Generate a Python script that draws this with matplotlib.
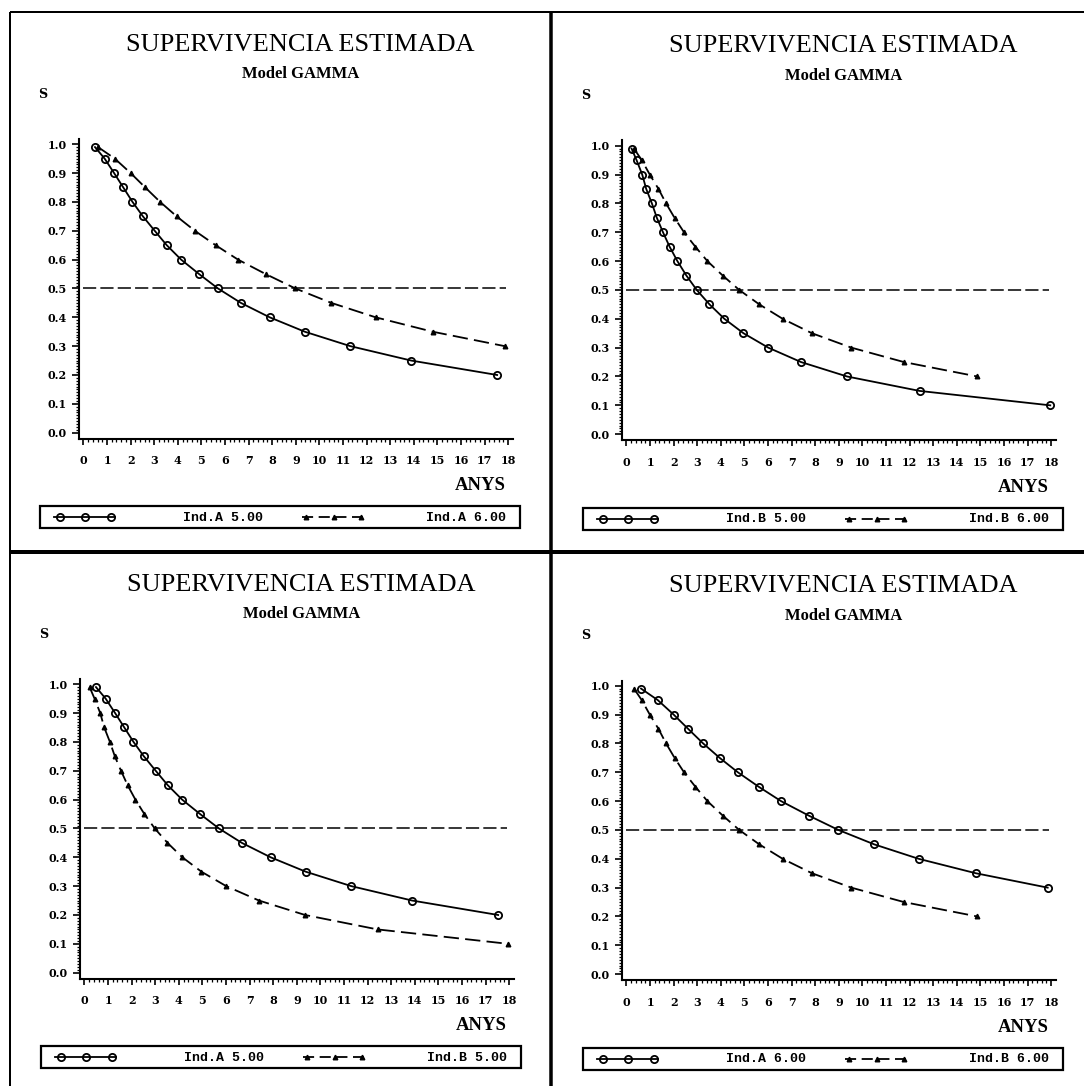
import matplotlib
matplotlib.use("Agg")
import matplotlib.pyplot as plt
from matplotlib.ticker import FixedLocator
from matplotlib.patches import Rectangle
import numpy as np

plt.rcParams['lines.scale_dashes'] = False

# ---------------- data ----------------
TITLE = "SUPERVIVENCIA ESTIMADA"
SUBTITLE = "Model GAMMA"
Y_LABEL = "S"
X_LABEL = "ANYS"
X_TICKS = list(range(0, 19))
Y_TICKS = [0.0, 0.1, 0.2, 0.3, 0.4, 0.5, 0.6, 0.7, 0.8, 0.9, 1.0]
Y_TICK_LABELS = ["0.0", "0.1", "0.2", "0.3", "0.4", "0.5", "0.6", "0.7", "0.8", "0.9", "1.0"]

A5_T = [0.49, 0.90, 1.30, 1.69, 2.08, 2.52, 3.02, 3.53, 4.14, 4.90, 5.70, 6.67,
        7.89, 9.38, 11.31, 13.89, 17.53]
A5_S = [0.99, 0.95, 0.90, 0.85, 0.80, 0.75, 0.70, 0.65, 0.60, 0.55, 0.50, 0.45,
        0.40, 0.35, 0.30, 0.25, 0.20]

A6_T = [0.62, 1.33, 2.00, 2.62, 3.25, 3.95, 4.72, 5.60, 6.55, 7.72, 8.98, 10.50,
        12.38, 14.80, 17.85]
A6_S = [0.99, 0.95, 0.90, 0.85, 0.80, 0.75, 0.70, 0.65, 0.60, 0.55, 0.50, 0.45,
        0.40, 0.35, 0.30]

B5_T = [0.22, 0.43, 0.67, 0.84, 1.08, 1.29, 1.55, 1.83, 2.16, 2.54, 2.98, 3.52,
        4.15, 4.96, 6.01, 7.40, 9.35, 12.42, 17.96]
B5_S = [0.99, 0.95, 0.90, 0.85, 0.80, 0.75, 0.70, 0.65, 0.60, 0.55, 0.50, 0.45,
        0.40, 0.35, 0.30, 0.25, 0.20, 0.15, 0.10]

B6_T = [0.32, 0.65, 0.99, 1.36, 1.68, 2.04, 2.44, 2.92, 3.43, 4.08, 4.78, 5.63,
        6.62, 7.86, 9.53, 11.76, 14.87]
B6_S = [0.99, 0.95, 0.90, 0.85, 0.80, 0.75, 0.70, 0.65, 0.60, 0.55, 0.50, 0.45,
        0.40, 0.35, 0.30, 0.25, 0.20]

SERIES = {
    "Ind.A 5.00": (A5_T, A5_S),
    "Ind.A 6.00": (A6_T, A6_S),
    "Ind.B 5.00": (B5_T, B5_S),
    "Ind.B 6.00": (B6_T, B6_S),
}
PANELS = [("Ind.A 5.00", "Ind.A 6.00"),
          ("Ind.B 5.00", "Ind.B 6.00"),
          ("Ind.A 5.00", "Ind.B 5.00"),
          ("Ind.A 6.00", "Ind.B 6.00")]
REF_S = 0.5
REF_T = [0.0, 17.9]

# ---------------- layout ----------------
W, H, DPI = 1084, 1086, 100
OFFSETS = [(0, 0), (543, 1.5), (1, 540), (543, 541.5)]

fig = plt.figure(figsize=(W / DPI, H / DPI), dpi=DPI)
fig.patch.set_facecolor("white")

ov = fig.add_axes([0, 0, 1, 1])
ov.set_xlim(0, W)
ov.set_ylim(H, 0)
ov.axis("off")


def px_axes(x, y, w, h):
    return fig.add_axes([x / W, 1 - (y + h) / H, w / W, h / H])


# frame lines
px = 0.72
ov.plot([10, W], [12, 12], color="k", lw=2 * px, solid_capstyle="butt")
ov.plot([10, 10], [12, H], color="k", lw=2 * px, solid_capstyle="butt")
ov.plot([551, 551], [12, H], color="k", lw=3.5 * px, solid_capstyle="butt")
ov.plot([10, W], [552, 552], color="k", lw=4 * px, solid_capstyle="butt")

tick_font = dict(family="DejaVu Serif", weight="bold", size=8)
mono = dict(family="Liberation Mono", weight="bold", size=9.5)

solid_kw = dict(color="k", lw=1.3, marker="o", ms=5.2, mfc="none", mec="k", mew=1.3)
dash_kw = dict(color="k", lw=1.3, ls=(0, (11, 4.5)), marker="^", ms=3.3, mfc="k", mec="k")

for (ox, oy), (k1, k2) in zip(OFFSETS, PANELS):
    ax = px_axes(ox + 79.2, oy + 139, 433.5, 299.6)
    ax.set_xlim(-0.178, 18.19)
    ax.set_ylim(-0.0205, 1.018)
    t1, s1 = SERIES[k1]
    t2, s2 = SERIES[k2]
    ax.plot(REF_T, [REF_S, REF_S], color="k", lw=1.1, ls=(0, (9.5, 3)))
    ax.plot(t2, s2, **dash_kw)
    ax.plot(t1, s1, **solid_kw)
    ax.patch.set_alpha(0)
    for side in ("top", "right"):
        ax.spines[side].set_visible(False)
    for side in ("left", "bottom"):
        ax.spines[side].set_linewidth(1.5)
    ax.xaxis.set_major_locator(FixedLocator(X_TICKS))
    ax.xaxis.set_minor_locator(FixedLocator(np.arange(0, 18.01, 0.2)))
    ax.yaxis.set_major_locator(FixedLocator(Y_TICKS))
    ax.yaxis.set_minor_locator(FixedLocator(np.arange(0, 1.001, 0.01)))
    ax.set_xticklabels([str(v) for v in X_TICKS], **tick_font)
    ax.set_yticklabels(Y_TICK_LABELS, **tick_font)
    ax.tick_params(axis="x", which="major", direction="out", length=4, width=1.2, pad=8)
    ax.tick_params(axis="y", which="major", direction="out", length=5, width=1.2, pad=4)
    ax.tick_params(which="minor", direction="out", length=2.3, width=0.9)

    # titles and labels
    ov.text(ox + 300, oy + 45, TITLE, ha="center", va="center",
            family="Liberation Serif", size=19)
    ov.text(ox + 301, oy + 74, SUBTITLE, ha="center", va="center",
            family="Liberation Serif", weight="bold", size=12)
    ov.text(ox + 43, oy + 94, Y_LABEL, ha="center", va="center",
            family="DejaVu Serif", weight="bold", size=9)
    ov.text(ox + 506, oy + 486, X_LABEL, ha="right", va="center",
            family="Liberation Serif", weight="bold", size=13.5)

    # legend box
    ov.add_patch(Rectangle((ox + 40, oy + 506), 480, 22, fill=False, lw=1.6, ec="k"))
    ly = oy + 517
    ov.plot([ox + 54, ox + 115], [ly, ly], color="k", lw=1.3)
    ov.plot([ox + 60, ox + 85, ox + 111], [ly, ly, ly], ls="none", marker="o",
            ms=5.2, mfc="none", mec="k", mew=1.3)
    ov.text(ox + 183, ly + 1, k1, ha="left", va="center", **mono)
    ov.plot([ox + 302, ox + 363], [ly, ly], color="k", lw=1.3, ls=(0, (8, 4)))
    ov.plot([ox + 306, ox + 334, ox + 361], [ly, ly, ly], ls="none", marker="^",
            ms=3.3, mfc="k", mec="k")
    ov.text(ox + 506, ly + 1, k2, ha="right", va="center", **mono)

fig.savefig("out.png", dpi=DPI, facecolor="white")
